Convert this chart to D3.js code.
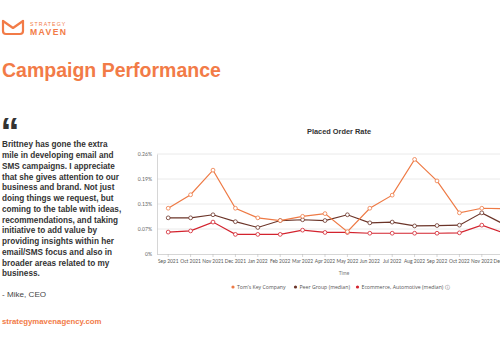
<!DOCTYPE html>
<html>
<head>
<meta charset="utf-8">
<script src="https://cdn.jsdelivr.net/npm/d3@7"></script>
<style>
  html, body { margin: 0; padding: 0; background: #fff; }
  svg { display: block; }
</style>
</head>
<body>
<svg id="chart" width="500" height="350"></svg>
<script>
// chart data
const months = ['Sep 2021', 'Oct 2021', 'Nov 2021', 'Dec 2021', 'Jan 2022', 'Feb 2022', 'Mar 2022', 'Apr 2022',
  'May 2022', 'Jun 2022', 'Jul 2022', 'Aug 2022', 'Sep 2022', 'Oct 2022', 'Nov 2022', 'Dec 2022']
const tomsKey = [0.119, 0.154, 0.218, 0.119, 0.094, 0.087, 0.098, 0.105, 0.058, 0.119, 0.153, 0.246, 0.190, 0.107, 0.119, 0.118]
const peerGroup = [0.094, 0.094, 0.102, 0.084, 0.069, 0.087, 0.089, 0.087, 0.102, 0.081, 0.083, 0.073, 0.074, 0.075, 0.107, 0.077]
const ecommerce = [0.057, 0.060, 0.083, 0.051, 0.051, 0.051, 0.062, 0.056, 0.056, 0.054, 0.054, 0.054, 0.054, 0.055, 0.075, 0.054]
const yTicks = [0, 0.065, 0.13, 0.195, 0.26]
const yTickLabels = ['0%', '0.07%', '0.13%', '0.19%', '0.26%']
const seriesNames = ['Tom\u2019s Key Company', 'Peer Group (median)', 'Ecommerce, Automotive (median) \u24d8']
const seriesColors = ['#ee7a45', '#6b3428', '#d3232e']

const quoteLines = [
  'Brittney has gone the extra',
  'mile in developing email and',
  'SMS campaigns. I appreciate',
  'that she gives attention to our',
  'business and brand. Not just',
  'doing things we request, but',
  'coming to the table with ideas,',
  'recommendations, and taking',
  'initiative to add value by',
  'providing insights within her',
  'email/SMS focus and also in',
  'broader areas related to my',
  'business.'
]

const orange = '#f27b47'
const sans = 'Liberation Sans, Arial, sans-serif'
const svg = d3.select('#chart')

// ---- header / logo ----
const logo = svg.append('g').attr('fill', 'none').attr('stroke', orange)
  .attr('stroke-width', 2.2).attr('stroke-linejoin', 'round').attr('stroke-linecap', 'round')
logo.append('path').attr('d', 'M3,21 L3,31 Q3,34 6,34 L20,34 Q23,34 23,31 L23,21')
logo.append('path').attr('d', 'M3,21 L13,28 L23,21')

svg.append('text').attr('x', 30).attr('y', 26)
  .attr('font-family', sans).attr('font-size', 5.2)
  .attr('letter-spacing', 1.1).attr('fill', orange).text('STRATEGY')
svg.append('text').attr('x', 30).attr('y', 34.5)
  .attr('font-family', sans).attr('font-size', 8.6).attr('font-weight', 'bold')
  .attr('letter-spacing', 1.4).attr('fill', orange).text('MAVEN')

svg.append('text').attr('x', 2).attr('y', 77)
  .attr('font-family', sans).attr('font-size', 19.5).attr('font-weight', 'bold')
  .attr('fill', orange).text('Campaign Performance')

// ---- quote ----
svg.append('text').attr('x', 0.5).attr('y', 145)
  .attr('font-family', sans).attr('font-size', 38).attr('font-weight', 'bold')
  .attr('fill', '#333').text('\u201c')

svg.append('g').selectAll('text')
  .data(quoteLines)
  .join('text')
  .attr('x', 2)
  .attr('y', (d, i) => 147.3 + i * 10.75)
  .attr('font-family', sans).attr('font-size', 8.2).attr('font-weight', 'bold')
  .attr('fill', '#333')
  .text(d => d)

svg.append('text').attr('x', 2).attr('y', 296.8)
  .attr('font-family', sans).attr('font-size', 8.1)
  .attr('fill', '#444').text('- Mike, CEO')

svg.append('text').attr('x', 2).attr('y', 324)
  .attr('font-family', sans).attr('font-size', 7.8).attr('font-weight', 'bold')
  .attr('fill', orange).text('strategymavenagency.com')

// ---- chart ----
const x = d3.scaleBand().domain(months).range([157, 157 + months.length * 22.4])
const y = d3.scaleLinear().domain([0, 0.26]).range([254, 154])
const cx = d => x(d) + x.bandwidth() / 2

svg.append('text').attr('x', 339).attr('y', 134).attr('text-anchor', 'middle')
  .attr('font-family', sans).attr('font-size', 7.4).attr('font-weight', 'bold')
  .attr('fill', '#333').text('Placed Order Rate')

// gridlines
svg.append('g').selectAll('line')
  .data(yTicks.slice(1))
  .join('line')
  .attr('x1', 157).attr('x2', 520)
  .attr('y1', d => y(d)).attr('y2', d => y(d))
  .attr('stroke', '#e4e4e4').attr('stroke-width', 0.8)

const yAxis = svg.append('g').attr('transform', 'translate(157,0)')
  .call(d3.axisLeft(y).tickValues(yTicks).tickSize(0).tickPadding(5)
    .tickFormat((d, i) => yTickLabels[i]))
yAxis.select('.domain').attr('stroke', '#ccc').attr('stroke-width', 0.8)
yAxis.selectAll('text').attr('font-family', 'Lato, sans-serif').attr('font-size', 5.1).attr('fill', '#666')

const xAxis = svg.append('g').attr('transform', 'translate(0,254)')
  .call(d3.axisBottom(x).tickSize(3).tickPadding(3))
xAxis.select('.domain').attr('stroke', '#ccc').attr('stroke-width', 0.8).attr('d', 'M157,0.5H520')
xAxis.selectAll('.tick line').attr('stroke', '#bbb').attr('stroke-width', 0.6)
xAxis.selectAll('text').attr('font-family', 'Lato, sans-serif').attr('font-size', 4.9).attr('fill', '#555')

svg.append('text').attr('x', 344).attr('y', 275).attr('text-anchor', 'middle')
  .attr('font-family', 'Lato, sans-serif').attr('font-size', 4.8).attr('fill', '#777').text('Time')

const allSeries = [tomsKey, peerGroup, ecommerce]
const line = d3.line().x((d, i) => cx(months[i])).y(d => y(d))

// draw bottom series first so orange sits on top
allSeries.map((vals, k) => ({ vals, k })).reverse().forEach(({ vals, k }) => {
  const g = svg.append('g')
  g.append('path').datum(vals).attr('d', line)
    .attr('fill', 'none').attr('stroke', seriesColors[k]).attr('stroke-width', 1.2)
  g.selectAll('circle').data(vals).join('circle')
    .attr('cx', (d, i) => cx(months[i])).attr('cy', d => y(d)).attr('r', 1.9)
    .attr('fill', '#fff').attr('stroke', seriesColors[k]).attr('stroke-width', 0.8)
})

// legend
const legendX = [233, 295.5, 357.5]
const legend = svg.append('g').selectAll('g')
  .data(seriesNames)
  .join('g')
  .attr('transform', (d, i) => `translate(${legendX[i]},287)`)
legend.append('circle').attr('r', 1.6).attr('fill', (d, i) => seriesColors[i])
legend.append('text').attr('x', 4).attr('y', 1.8)
  .attr('font-family', 'Open Sans, sans-serif').attr('font-size', 5.2).attr('fill', '#555')
  .text(d => d)
</script>
</body>
</html>
